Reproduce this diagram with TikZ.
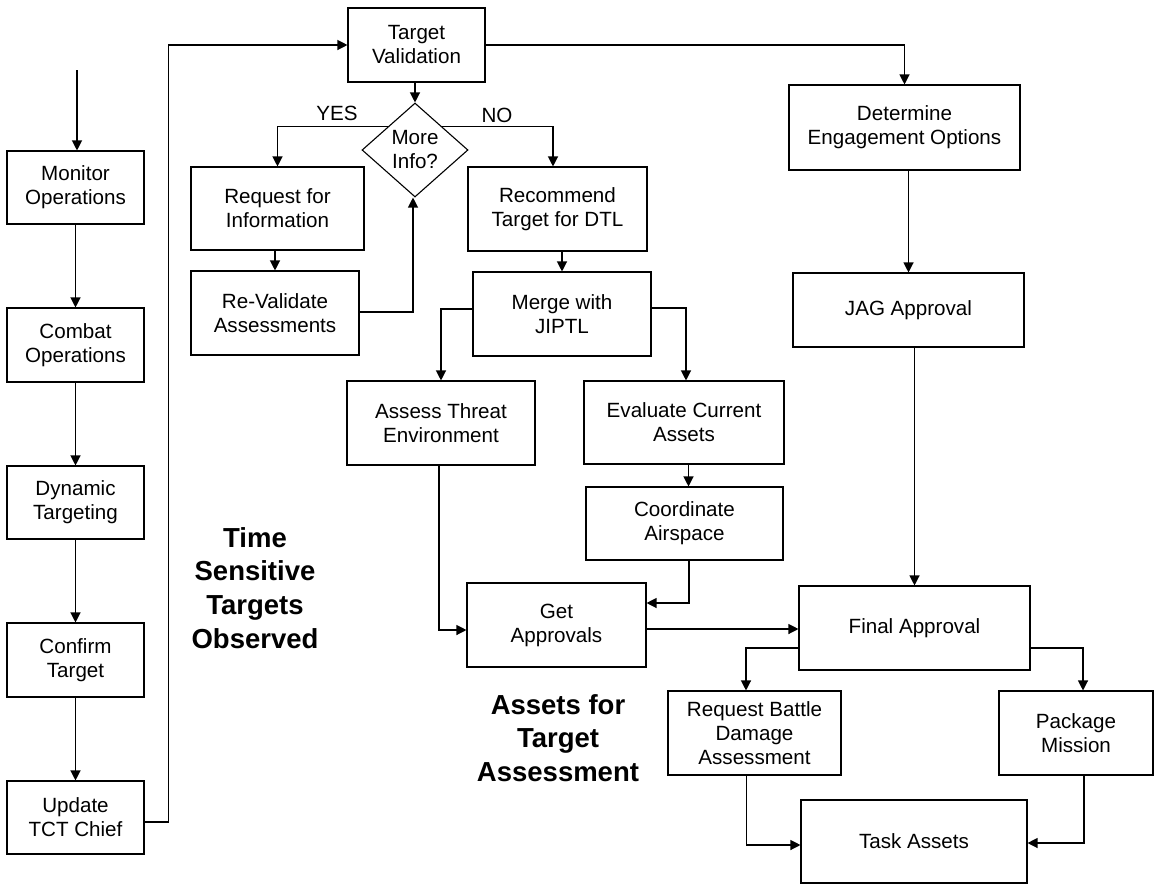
\documentclass[tikz,border=0pt]{standalone}
\usepackage{fontspec}
\setmainfont{Liberation Sans}
\usetikzlibrary{arrows.meta,shapes.geometric}
\begin{document}
\begin{tikzpicture}[x=1pt,y=-1pt,
  every node/.style={font=\fontsize{20.6}{24}\selectfont},
  box/.style={draw=black, line width=1.1pt, align=center, inner sep=0pt},
  sz/.style 2 args={minimum width=#1pt, minimum height=#2pt},
  decision/.style={diamond, draw=black, line width=1.1pt, align=center, inner sep=0pt,
    minimum width=106pt, minimum height=94pt},
  heading/.style={align=center, font=\bfseries\fontsize{27.5}{33.8}\selectfont},
  arr/.style={line width=1.2pt, -{Triangle[length=10pt,width=10pt]}}]
\useasboundingbox (0,0) rectangle (1154,884);

% left column
\node[box, sz={137}{73}] (monitor) at (75.5,187.5) {Monitor\\Operations};
\node[box, sz={137}{74}] (combat)  at (75.5,345)   {Combat\\Operations};
\node[box, sz={137}{73}] (dynamic) at (75.5,502.5) {Dynamic\\Targeting};
\node[box, sz={137}{74}] (confirm) at (75.5,660)   {Confirm\\Target};
\node[box, sz={137}{73}] (update)  at (75.5,817.5) {Update\\TCT Chief};

% validation branch
\node[box, sz={137}{74}] (tv)    at (416.5,45)  {Target\\Validation};
\node[decision]          (dia)   at (415,150)   {More\\Info?};
\node[box, sz={173}{83}] (req)   at (277.5,208.5) {Request for\\Information};
\node[box, sz={168}{84}] (reval) at (275,313)   {Re-Validate\\Assessments};
\node[box, sz={179}{84}] (rec)   at (557.5,209) {Recommend\\Target for DTL};
\node[box, sz={178}{84}] (merge) at (562,314)   {Merge with\\JIPTL};
\node[box, sz={188}{84}] (assess) at (441,423)  {Assess Threat\\Environment};
\node[box, sz={200}{83}] (eval)  at (684,422.5) {Evaluate Current\\Assets};
\node[box, sz={197}{73}] (coord) at (684.5,523.5) {Coordinate\\Airspace};
\node[box, sz={179}{84}] (get)   at (556.5,625) {Get\\Approvals};

% engagement branch
\node[box, sz={231}{85}] (det)   at (904.5,127.5) {Determine\\Engagement Options};
\node[box, sz={231}{74}] (jag)   at (908.5,310) {JAG Approval};
\node[box, sz={231}{84}] (final) at (914.5,628) {Final Approval};
\node[box, sz={173}{84}] (rbda)  at (754.5,733) {Request Battle\\Damage\\Assessment};
\node[box, sz={154}{84}] (pkg)   at (1076,733)  {Package\\Mission};
\node[box, sz={226}{83}] (task)  at (914,841.5) {Task Assets};

% headings
\node[heading] (tst) at (255,588) {Time\\Sensitive\\Targets\\Observed};
\node[heading] (ata) at (558,738) {Assets for\\Target\\Assessment};

% branch labels
\node (yes) at (337,113.5) {YES};
\node (no)  at (497,115.5) {NO};

% left column flow
\coordinate (entry) at (77,70);
\draw[arr] (entry) -- (entry |- monitor.north);
\draw[arr] (monitor) -- (combat);
\draw[arr] (combat) -- (dynamic);
\draw[arr] (dynamic) -- (confirm);
\draw[arr] (confirm) -- (update);
\draw[arr] ([yshift=-4.5pt]update.east) -- ++(24,0) |- (tv.west);

% validation
\draw[arr] (tv.east) -| (det.north);
\draw[arr] (dia.north |- tv.south) -- (dia.north);
\draw[arr] (dia.north west) -| (req.north);
\draw[arr] (dia.north east) -| ([xshift=-4.5pt]rec.north);
\draw[arr] (reval.north |- req.south) -- (reval.north);
\draw[arr] ([yshift=1pt]reval.east) -| ([xshift=-2pt]dia.south);
\draw[arr] (merge.north |- rec.south) -- (merge.north);
\draw[arr] ([yshift=5pt]merge.west) -| (assess.north);
\draw[arr] ([yshift=6pt]merge.east) -| ([xshift=2pt]eval.north);
\draw[arr] ([xshift=4.5pt]eval.south) -- ([xshift=4.5pt]eval.south |- coord.north);
\draw[arr] ([xshift=4.5pt]coord.south) |- ([yshift=22pt]get.east);
\draw[arr] ([xshift=-2pt]assess.south) |- ([yshift=-5pt]get.west);
\draw[arr] ([yshift=-4pt]get.east) -- ([yshift=-4pt]get.east -| final.west);

% engagement
\draw[arr] (jag.north |- det.south) -- (jag.north);
\draw[arr] (final.north |- jag.south) -- (final.north);
\draw[arr] ([yshift=-20pt]final.west) -| ([xshift=-8.5pt]rbda.north);
\draw[arr] ([yshift=-20pt]final.east) -| ([xshift=7pt]pkg.north);
\draw[arr] ([xshift=-8pt]rbda.south) |- ([yshift=-3.5pt]task.west);
\draw[arr] ([xshift=8pt]pkg.south) |- ([yshift=-1.5pt]task.east);
\end{tikzpicture}
\end{document}
